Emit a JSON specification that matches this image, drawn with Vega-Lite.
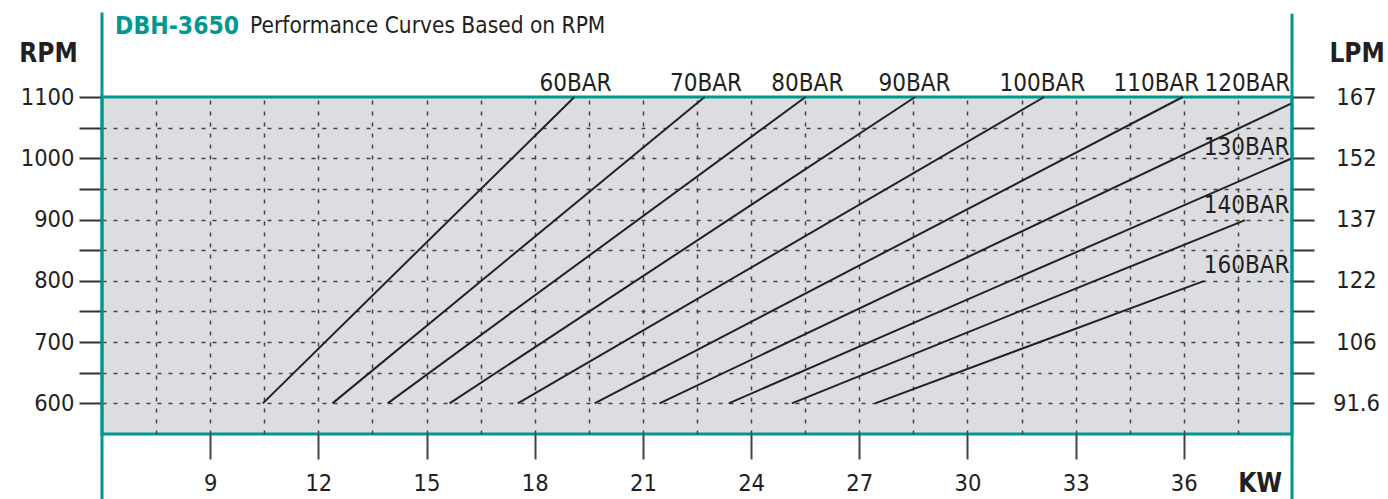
{
  "$schema": "https://vega.github.io/schema/vega-lite/v6.json",
  "width": 1190,
  "height": 337,
  "autosize": {"type": "none"},
  "padding": {"left": 102, "top": 97, "right": 96, "bottom": 65},
  "background": "white",
  "config": {
    "view": {"fill": "#dcdde0", "stroke": "#00998f", "strokeWidth": 3},
    "font": "Liberation Sans Narrow, DejaVu Sans Condensed, Roboto, sans-serif"
  },
  "datasets": {
    "curves": [
      {"series": "60BAR", "kw": 10.46, "rpm": 600}, {"series": "60BAR", "kw": 19.10, "rpm": 1100},
      {"series": "70BAR", "kw": 12.39, "rpm": 600}, {"series": "70BAR", "kw": 22.71, "rpm": 1100},
      {"series": "80BAR", "kw": 13.92, "rpm": 600}, {"series": "80BAR", "kw": 25.51, "rpm": 1100},
      {"series": "90BAR", "kw": 15.64, "rpm": 600}, {"series": "90BAR", "kw": 28.55, "rpm": 1100},
      {"series": "100BAR", "kw": 17.53, "rpm": 600}, {"series": "100BAR", "kw": 32.13, "rpm": 1100},
      {"series": "110BAR", "kw": 19.66, "rpm": 600}, {"series": "110BAR", "kw": 35.97, "rpm": 1100},
      {"series": "120BAR", "kw": 21.46, "rpm": 600}, {"series": "120BAR", "kw": 39.0, "rpm": 1090},
      {"series": "130BAR", "kw": 23.38, "rpm": 600}, {"series": "130BAR", "kw": 39.0, "rpm": 1000},
      {"series": "140BAR", "kw": 25.13, "rpm": 600}, {"series": "140BAR", "kw": 37.70, "rpm": 899},
      {"series": "160BAR", "kw": 27.44, "rpm": 600}, {"series": "160BAR", "kw": 36.57, "rpm": 800}
    ],
    "edges": [
      {"kw": 6, "top": 1238, "bottom": 444},
      {"kw": 39, "top": 1236, "bottom": 444}
    ],
    "labelsCenter": [
      {"label": "60BAR", "kw": 19.13, "rpm": 1110},
      {"label": "70BAR", "kw": 22.75, "rpm": 1110},
      {"label": "80BAR", "kw": 25.56, "rpm": 1110},
      {"label": "90BAR", "kw": 28.53, "rpm": 1110},
      {"label": "100BAR", "kw": 32.08, "rpm": 1110},
      {"label": "110BAR", "kw": 35.24, "rpm": 1110}
    ],
    "labelsRight": [
      {"label": "120BAR", "kw": 38.95, "rpm": 1110},
      {"label": "130BAR", "kw": 38.93, "rpm": 1006},
      {"label": "140BAR", "kw": 38.93, "rpm": 910},
      {"label": "160BAR", "kw": 38.93, "rpm": 812}
    ]
  },
  "resolve": {"axis": {"x": "independent", "y": "independent"}},
  "layer": [
    {
      "data": {"name": "curves"},
      "mark": {"type": "line", "color": "#222222", "strokeWidth": 2},
      "encoding": {
        "x": {
          "field": "kw", "type": "quantitative",
          "scale": {"domain": [6, 39], "nice": false, "zero": false},
          "axis": {
            "orient": "top",
            "values": [7.5, 9, 10.5, 12, 13.5, 15, 16.5, 18, 19.5, 21, 22.5, 24, 25.5, 27, 28.5, 30, 31.5, 33, 34.5, 36, 37.5],
            "grid": true, "gridDash": [4, 7], "gridColor": "#444444", "gridWidth": 1.5,
            "ticks": false, "labels": false, "domain": false,
            "title": "Performance Curves Based on RPM",
            "titleX": 147.6, "titleY": -65, "titleAlign": "left", "titleBaseline": "alphabetic",
            "titleAngle": 0, "titleFontSize": 22.5, "titleFontWeight": "normal", "titleColor": "#231f20"
          }
        },
        "y": {
          "field": "rpm", "type": "quantitative",
          "scale": {"domain": [550, 1100], "nice": false, "zero": false},
          "axis": {
            "orient": "left",
            "values": [600, 650, 700, 750, 800, 850, 900, 950, 1000, 1050, 1100],
            "format": "d",
            "grid": true, "gridDash": [4, 7], "gridColor": "#444444", "gridWidth": 1.5,
            "gridOpacity": {"expr": "datum.value === 1100 ? 0 : 1"},
            "ticks": true, "tickSize": 23, "tickWidth": 2, "tickColor": "#333333",
            "labelExpr": "datum.value % 100 === 0 ? datum.label : ''",
            "labelFontSize": 23.5, "labelColor": "#231f20", "labelPadding": 5,
            "domain": false,
            "title": "RPM", "titleAngle": 0, "titleX": -54, "titleY": -44,
            "titleAlign": "center", "titleBaseline": "middle",
            "titleFontSize": 26, "titleFontWeight": "bold", "titleColor": "#231f20"
          }
        },
        "detail": {"field": "series"}
      }
    },
    {
      "data": {"name": "labelsCenter"},
      "mark": {"type": "text", "align": "center", "baseline": "alphabetic", "fontSize": 24, "color": "#231f20"},
      "encoding": {
        "x": {
          "field": "kw", "type": "quantitative",
          "scale": {"domain": [6, 39], "nice": false, "zero": false},
          "axis": {
            "orient": "bottom",
            "values": [9, 12, 15, 18, 21, 24, 27, 30, 33, 36],
            "grid": false, "domain": false,
            "ticks": true, "tickSize": 25, "tickWidth": 2, "tickColor": "#444444",
            "labelFontSize": 23.5, "labelColor": "#231f20", "labelBaseline": "alphabetic", "labelPadding": 31,
            "title": "KW", "titleX": 1157.6, "titleY": 57, "titleAlign": "center", "titleBaseline": "alphabetic",
            "titleAngle": 0, "titleFontSize": 26, "titleFontWeight": "bold", "titleColor": "#231f20"
          }
        },
        "y": {
          "field": "rpm", "type": "quantitative",
          "scale": {"domain": [550, 1100], "nice": false, "zero": false},
          "axis": {
            "orient": "right",
            "values": [600, 650, 700, 750, 800, 850, 900, 950, 1000, 1050, 1100],
            "grid": false, "domain": false,
            "ticks": true, "tickSize": 22, "tickWidth": 2, "tickColor": "#333333",
            "labelExpr": "datum.value == 1100 ? '167' : datum.value == 1000 ? '152' : datum.value == 900 ? '137' : datum.value == 800 ? '122' : datum.value == 700 ? '106' : datum.value == 600 ? '91.6' : ''",
            "labelAlign": "center", "labelPadding": 42, "labelFontSize": 23.5, "labelColor": "#231f20",
            "title": "LPM", "titleAngle": 0, "titleX": 64.6, "titleY": -44,
            "titleAlign": "center", "titleBaseline": "middle",
            "titleFontSize": 26, "titleFontWeight": "bold", "titleColor": "#231f20"
          }
        },
        "text": {"field": "label"}
      }
    },
    {
      "data": {"name": "labelsRight"},
      "mark": {"type": "text", "align": "right", "baseline": "alphabetic", "fontSize": 24, "color": "#231f20"},
      "encoding": {
        "x": {
          "field": "kw", "type": "quantitative",
          "scale": {"domain": [6, 39], "nice": false, "zero": false},
          "axis": {
            "orient": "top", "values": [], "grid": false, "ticks": false, "labels": false, "domain": false,
            "title": "DBH-3650", "titleX": 12.6, "titleY": -64, "titleAlign": "left", "titleBaseline": "alphabetic",
            "titleAngle": 0, "titleFontSize": 24.5, "titleFontWeight": "bold", "titleColor": "#00998f"
          }
        },
        "y": {
          "field": "rpm", "type": "quantitative",
          "scale": {"domain": [550, 1100], "nice": false, "zero": false},
          "axis": null
        },
        "text": {"field": "label"}
      }
    },
    {
      "data": {"name": "edges"},
      "mark": {"type": "rule", "color": "#00998f", "strokeWidth": 3},
      "encoding": {
        "x": {"field": "kw", "type": "quantitative", "scale": {"domain": [6, 39], "nice": false, "zero": false}, "axis": null},
        "y": {"field": "top", "type": "quantitative", "scale": {"domain": [550, 1100], "nice": false, "zero": false}, "axis": null},
        "y2": {"field": "bottom"}
      }
    }
  ]
}
